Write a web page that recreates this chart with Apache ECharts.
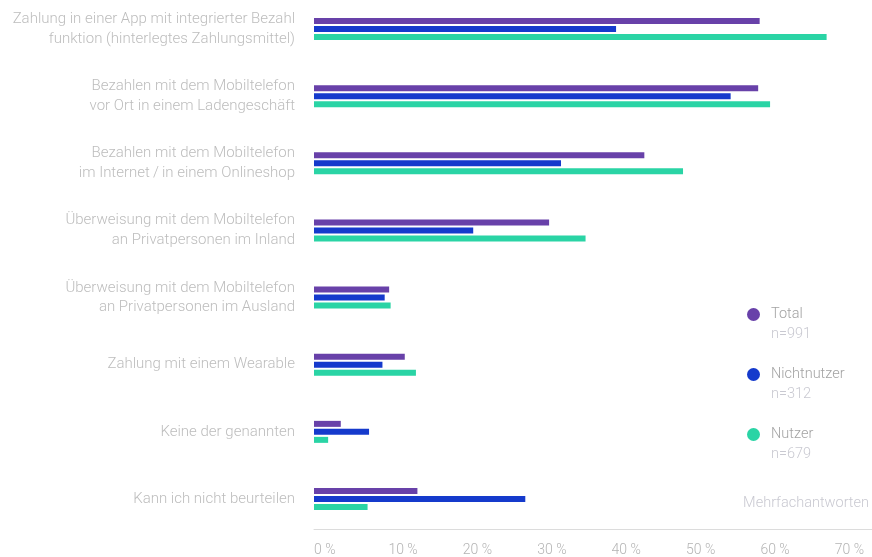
<!DOCTYPE html>
<html lang="de">
<head>
<meta charset="utf-8">
<title>Mobiles Bezahlen – Nutzung</title>
<script src="https://cdn.jsdelivr.net/npm/echarts@6/dist/echarts.min.js"></script>
<style>
  html, body { margin: 0; padding: 0; background: #ffffff; }
  #chart { width: 872px; height: 557px; }
</style>
</head>
<body>
<div id="chart"></div>
<script>
// Antwortkategorien (von oben nach unten)
const categories = [
  'Zahlung in einer App mit integrierter Bezahl\nfunktion (hinterlegtes Zahlungsmittel)',
  'Bezahlen mit dem Mobiltelefon\nvor Ort in einem Ladengeschäft',
  'Bezahlen mit dem Mobiltelefon\nim Internet\u2009/\u2009in einem Onlineshop',
  'Überweisung mit dem Mobiltelefon\nan Privatpersonen im Inland',
  'Überweisung mit dem Mobiltelefon\nan Privatpersonen im Ausland',
  'Zahlung mit einem Wearable',
  'Keine der genannten',
  'Kann ich nicht beurteilen'
];

// Anteile in Prozent je Gruppe
const totalValues       = [59.9, 59.7, 44.4, 31.6, 10.1, 12.2, 3.6, 13.9];
const nichtnutzerValues = [40.6, 56.0, 33.2, 21.4, 9.5, 9.2, 7.4, 28.4];
const nutzerValues      = [68.9, 61.3, 49.6, 36.5, 10.3, 13.7, 1.9, 7.2];

// Gruppen, Stichprobengrößen und Farben
const groupNames  = ['Total', 'Nichtnutzer', 'Nutzer'];
const sampleSizes = [991, 312, 679];
const groupColors = ['#6841a9', '#153acc', '#2ad4a5'];

// Achsenbeschriftungen der Prozentskala
const xTicks = [0, 10, 20, 30, 40, 50, 60, 70];
const xTickUnit = ' %';

const FONT = 'Roboto, "Noto Sans", sans-serif';
const seriesValues = [totalValues, nichtnutzerValues, nutzerValues];

const chart = echarts.init(document.getElementById('chart'), null, { renderer: 'canvas' });

chart.setOption({
  backgroundColor: '#ffffff',
  animation: false,
  textStyle: { fontFamily: FONT },
  // Kategorien liegen auf den Achsenpunkten; die Prozentachse sitzt darunter
  grid: { left: 314, right: 0, top: 29, bottom: 58, containLabel: false },
  legend: {
    orient: 'vertical',
    left: 742,
    top: 282,
    itemWidth: 13,
    itemHeight: 13,
    itemGap: 5,
    icon: 'circle',
    selectedMode: false,
    data: groupNames,
    formatter: function (name) {
      const n = sampleSizes[groupNames.indexOf(name)];
      return '{s| }\n{a|' + name + '}\n{b|n=' + n + '}';
    },
    textStyle: {
      fontFamily: FONT,
      rich: {
        s: { fontSize: 14.5, lineHeight: 20, padding: [0, 0, 0, 6] },
        a: { fontSize: 14.5, lineHeight: 20, color: '#a3a3a3', fontWeight: 300, fontFamily: FONT, padding: [0, 0, 0, 6] },
        b: { fontSize: 14.5, lineHeight: 20, color: '#c9c9d1', fontWeight: 300, fontFamily: FONT, padding: [0, 0, 0, 6] }
      }
    }
  },
  xAxis: {
    type: 'value',
    min: xTicks[0],
    max: 75,
    interval: xTicks[1] - xTicks[0],
    offset: 30,
    axisLine: { show: true, lineStyle: { color: '#dcdcdc', width: 1 } },
    axisTick: { show: false },
    splitLine: { show: false },
    axisLabel: {
      showMaxLabel: false,
      align: 'left',
      margin: 14,
      fontSize: 14,
      fontWeight: 300,
      fontFamily: FONT,
      color: '#b4b4b4',
      formatter: function (v) {
        return xTicks.indexOf(v) >= 0 ? v + xTickUnit : '';
      }
    }
  },
  yAxis: {
    type: 'category',
    inverse: true,
    boundaryGap: false,
    data: categories,
    axisLine: { show: false },
    axisTick: { show: false },
    splitLine: { show: false },
    axisLabel: {
      margin: 19,
      fontSize: 15,
      lineHeight: 19.5,
      fontWeight: 300,
      fontFamily: FONT,
      color: '#bdbdbd',
      align: 'right'
    }
  },
  series: groupNames.map(function (name, i) {
    return {
      name: name,
      type: 'bar',
      data: seriesValues[i],
      barWidth: 6,
      barGap: '33.3%',
      itemStyle: { color: groupColors[i] },
      emphasis: { disabled: true }
    };
  }),
  graphic: [{
    type: 'text',
    right: 3,
    top: 496,
    style: {
      text: 'Mehrfachantworten',
      fontSize: 14.5,
      fontWeight: 300,
      fontFamily: FONT,
      fill: '#c9c9d1'
    }
  }]
});
</script>
</body>
</html>
